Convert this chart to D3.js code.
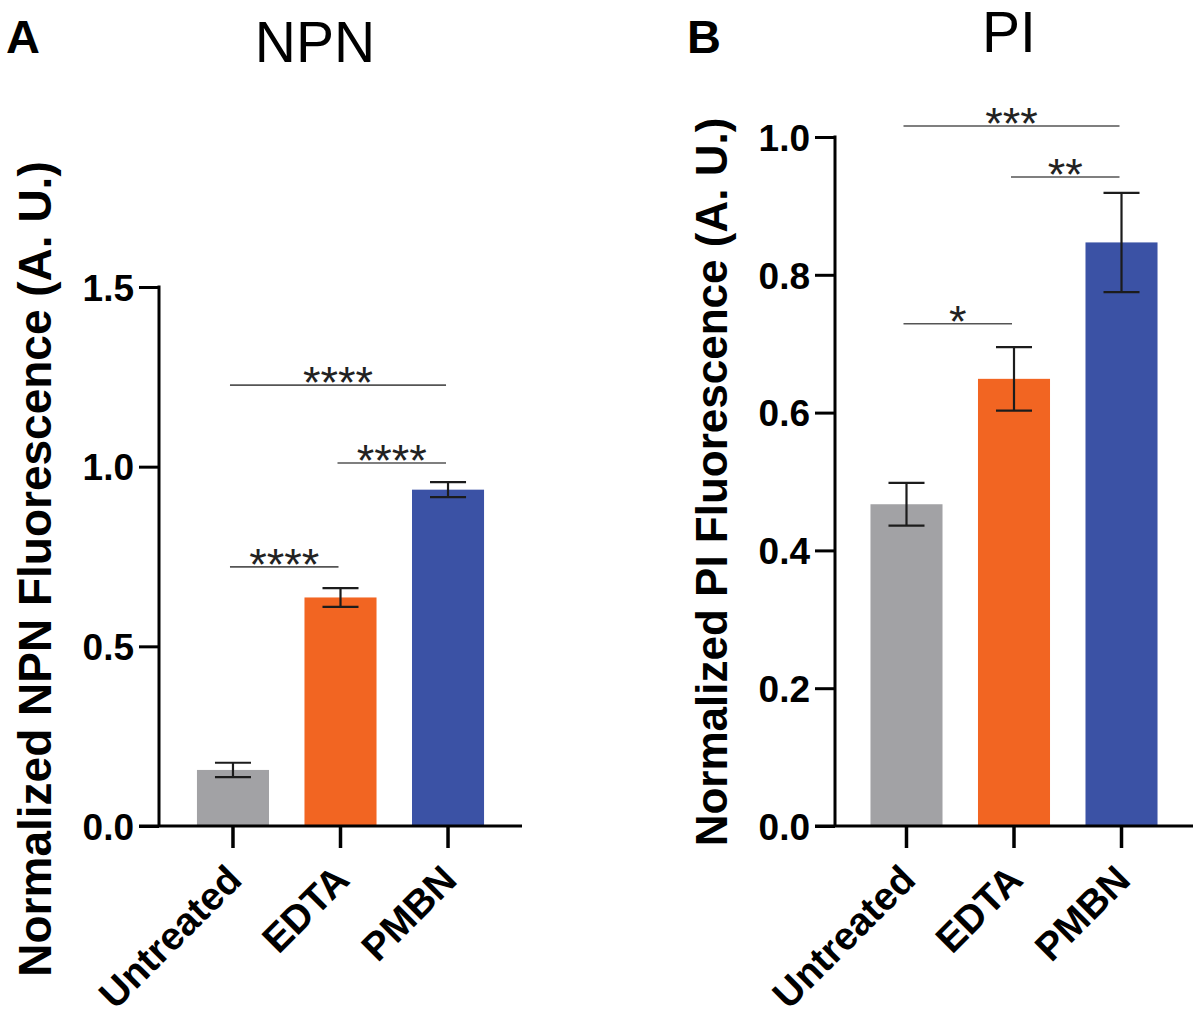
<!DOCTYPE html>
<html>
<head>
<meta charset="utf-8">
<script src="https://cdn.jsdelivr.net/npm/d3@7"></script>
<style>
  html, body { margin: 0; padding: 0; background: #fff; }
  svg { display: block; }
  text { font-family: "Liberation Sans", Arial, Helvetica, sans-serif; }
</style>
</head>
<body>
<svg id="chart" width="1200" height="1019"></svg>
<script>
// ---------------- DATA ----------------
const categories = ["Untreated", "EDTA", "PMBN"];
const barColors = ["#a2a2a5", "#f26522", "#3b52a5"];

// Panel A: NPN
const npnMeans = [0.156, 0.636, 0.936];
const npnErrors = [0.020, 0.026, 0.021];
const npnTicks = [0.0, 0.5, 1.0, 1.5];
const npnSigPairs = [["Untreated", "PMBN"], ["EDTA", "PMBN"], ["Untreated", "EDTA"]];
const npnSigHeights = [1.227, 1.010, 0.721];
const npnSigLabels = ["****", "****", "****"];

// Panel B: PI
const piMeans = [0.467, 0.649, 0.847];
const piErrors = [0.031, 0.046, 0.072];
const piTicks = [0.0, 0.2, 0.4, 0.6, 0.8, 1.0];
const piSigPairs = [["Untreated", "PMBN"], ["EDTA", "PMBN"], ["Untreated", "EDTA"]];
const piSigHeights = [1.016, 0.942, 0.729];
const piSigLabels = ["***", "**", "*"];

// ---------------- DRAW ----------------
const svg = d3.select("#chart");
svg.append("rect").attr("width", 1200).attr("height", 1019).attr("fill", "#fff");

function panel(cfg) {
  const g = svg.append("g");
  const x = d3.scaleBand().domain(categories)
    .range([cfg.axisX, cfg.axisEnd])
    .paddingInner(0.33).paddingOuter(cfg.padOuter);
  const y = d3.scaleLinear().domain([0, cfg.yMax]).range([cfg.y0, cfg.yTop]);
  const bw = x.bandwidth();

  // bars
  g.selectAll("rect.bar").data(cfg.means).enter().append("rect")
    .attr("class", "bar")
    .attr("x", (d, i) => x(categories[i]))
    .attr("y", d => y(d))
    .attr("width", bw)
    .attr("height", d => y(0) - y(d))
    .attr("fill", (d, i) => barColors[i]);

  // error bars
  const capW = bw * 0.5;
  cfg.means.forEach((m, i) => {
    const cx = x(categories[i]) + bw / 2;
    const e = cfg.errors[i];
    const eg = g.append("g").attr("stroke", "#1c1c1c").attr("stroke-width", 2.2);
    eg.append("line").attr("x1", cx).attr("x2", cx).attr("y1", y(m + e)).attr("y2", y(m - e));
    eg.append("line").attr("x1", cx - capW / 2).attr("x2", cx + capW / 2).attr("y1", y(m + e)).attr("y2", y(m + e));
    eg.append("line").attr("x1", cx - capW / 2).attr("x2", cx + capW / 2).attr("y1", y(m - e)).attr("y2", y(m - e));
  });

  // y axis
  const yAxis = d3.axisLeft(y).tickValues(cfg.ticks).tickFormat(d3.format(".1f"))
    .tickSize(20).tickPadding(5).tickSizeOuter(0);
  const ya = g.append("g").attr("transform", `translate(${cfg.axisX},0)`).call(yAxis);
  ya.select(".domain").attr("stroke", "#000").attr("stroke-width", 3)
    .attr("d", `M0,${cfg.yTop - 1.5}V${cfg.y0}`);
  ya.selectAll(".tick line").attr("stroke", "#000").attr("stroke-width", 3);
  ya.selectAll(".tick text").attr("fill", "#000")
    .style("font-size", "37px").style("font-weight", "bold")
    .attr("dy", "0.36em");

  // x axis
  const xAxis = d3.axisBottom(x).tickSize(22).tickSizeOuter(0).tickFormat("");
  const xa = g.append("g").attr("transform", `translate(0,${cfg.y0})`).call(xAxis);
  xa.select(".domain").attr("stroke", "#000").attr("stroke-width", 3)
    .attr("d", `M${cfg.axisX - 20},0H${cfg.axisEnd}`);
  xa.selectAll(".tick line").attr("stroke", "#000").attr("stroke-width", 3.5);

  // x labels rotated
  categories.forEach(c => {
    const cx = x(c) + bw / 2;
    g.append("text")
      .attr("transform", `translate(${cx + 11},${cfg.y0 + 56}) rotate(-45)`)
      .attr("text-anchor", "end")
      .style("font-size", "39px").style("font-weight", "bold")
      .attr("fill", "#000")
      .text(c);
  });

  // significance brackets
  cfg.sigPairs.forEach((p, i) => {
    const x1 = x(p[0]) + bw / 2 - 3;
    const x2 = x(p[1]) + bw / 2 - 2;
    const yy = y(cfg.sigHeights[i]);
    g.append("line").attr("x1", x1).attr("x2", x2).attr("y1", yy).attr("y2", yy)
      .attr("stroke", "#555").attr("stroke-width", 1.6);
    g.append("text").attr("x", (x1 + x2) / 2).attr("y", yy + 13)
      .attr("text-anchor", "middle")
      .style("font-size", "45px").attr("fill", "#222")
      .text(cfg.sigLabels[i]);
  });

  // y label
  g.append("text")
    .attr("transform", `translate(${cfg.ylabX},${cfg.ylabY}) rotate(-90)`)
    .attr("text-anchor", "middle")
    .style("font-size", cfg.ylabSize + "px").style("font-weight", "bold")
    .attr("fill", "#000")
    .text(cfg.ylabel);

  // title
  g.append("text").attr("x", cfg.titleX).attr("y", cfg.titleY)
    .attr("text-anchor", "middle").style("font-size", "57px").attr("fill", "#000")
    .text(cfg.title);

  // panel letter
  g.append("text").attr("x", cfg.letterX).attr("y", 53)
    .style("font-size", "47px").style("font-weight", "bold").attr("fill", "#000")
    .text(cfg.letter);
}

panel({
  means: npnMeans, errors: npnErrors, ticks: npnTicks, yMax: 1.5,
  sigPairs: npnSigPairs, sigHeights: npnSigHeights, sigLabels: npnSigLabels,
  axisX: 159, axisEnd: 522, padOuter: 0.353, y0: 826, yTop: 287,
  ylabel: "Normalized NPN Fluorescence (A. U.)", ylabX: 51, ylabY: 569, ylabSize: 46,
  title: "NPN", titleX: 315, titleY: 62, letter: "A", letterX: 6
});

panel({
  means: piMeans, errors: piErrors, ticks: piTicks, yMax: 1.0,
  sigPairs: piSigPairs, sigHeights: piSigHeights, sigLabels: piSigLabels,
  axisX: 835, axisEnd: 1193, padOuter: 0.33, y0: 826, yTop: 137,
  ylabel: "Normalized PI Fluorescence (A. U.)", ylabX: 727, ylabY: 482, ylabSize: 44,
  title: "PI", titleX: 1009, titleY: 52, letter: "B", letterX: 687
});
</script>
</body>
</html>
